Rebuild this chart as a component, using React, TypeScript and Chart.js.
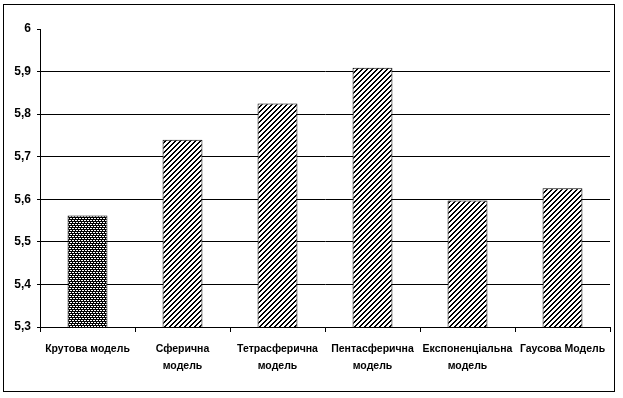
import React, { useEffect, useRef } from "react";
import { Chart, registerables } from "chart.js";

Chart.register(...registerables);

const categories: (string | string[])[] = [
  "Крутова модель",
  ["Сферична", "модель"],
  ["Тетрасферична", "модель"],
  ["Пентасферична", "модель"],
  ["Експоненціальна", "модель"],
  "Гаусова Модель",
];
const values = [5.562, 5.74, 5.825, 5.909, 5.597, 5.626];
const yTickLabels = ["5,3", "5,4", "5,5", "5,6", "5,7", "5,8", "5,9", "6"];

const FONT = "'Liberation Sans', Arial, sans-serif";

function makeDots(ctx: CanvasRenderingContext2D): CanvasPattern | string {
  const c = document.createElement("canvas");
  c.width = 6;
  c.height = 4;
  const t = c.getContext("2d")!;
  t.fillStyle = "#000";
  t.fillRect(0, 0, 6, 4);
  t.fillStyle = "#fff";
  [0, 1, 3, 4].forEach((x) => t.fillRect(x, 0, 1, 1));
  [1, 2, 4, 5].forEach((x) => t.fillRect(x, 2, 1, 1));
  return ctx.createPattern(c, "repeat") || "#333";
}

function makeHatch(ctx: CanvasRenderingContext2D): CanvasPattern | string {
  const n = 5;
  const c = document.createElement("canvas");
  c.width = n;
  c.height = n;
  const t = c.getContext("2d")!;
  t.fillStyle = "#fff";
  t.fillRect(0, 0, n, n);
  t.fillStyle = "#000";
  for (let y = 0; y < n; y++)
    for (let x = 0; x < n; x++) if ((x + y) % n < 2) t.fillRect(x, y, 1, 1);
  return ctx.createPattern(c, "repeat") || "#888";
}

export default function App() {
  const ref = useRef<HTMLCanvasElement | null>(null);
  useEffect(() => {
    const canvas = ref.current!;
    const ctx = canvas.getContext("2d")!;
    const dots = makeDots(ctx);
    const hatch = makeHatch(ctx);
    const chart = new Chart(canvas, {
      type: "bar",
      data: {
        labels: categories,
        datasets: [
          {
            data: values,
            backgroundColor: values.map((_, i) => (i === 0 ? dots : hatch)) as any,
            borderColor: "#000",
            borderWidth: 1,
            barPercentage: 0.42,
            categoryPercentage: 1,
          },
        ],
      },
      options: {
        animation: false,
        responsive: false,
        devicePixelRatio: 1,
        layout: { padding: { left: 0, top: 29, right: 13, bottom: 0 } },
        plugins: { legend: { display: false }, tooltip: { enabled: false } },
        scales: {
          x: {
            afterFit: (s: any) => {
              s.height = 71;
            },
            grid: {
              display: true,
              drawOnChartArea: false,
              drawTicks: true,
              tickLength: 5,
              tickColor: "#000",
              offset: true,
            },
            border: { display: true, color: "#000", width: 1 },
            ticks: {
              color: "#000",
              font: { family: FONT, size: 10.5, weight: "bold", lineHeight: 1.65 },
              padding: 8,
              maxRotation: 0,
              autoSkip: false,
            },
          },
          y: {
            min: 5.3,
            max: 6,
            afterFit: (s: any) => {
              s.width = 40;
            },
            grid: {
              color: (c: any) => (c.tick && c.tick.value > 5.99 ? "rgba(0,0,0,0)" : "#000"),
              tickColor: "#000",
              tickLength: 3,
              lineWidth: 1,
            },
            border: { display: true, color: "#000", width: 1 },
            ticks: {
              stepSize: 0.1,
              color: "#000",
              font: { family: FONT, size: 12, weight: "bold" },
              padding: 6,
              callback: (_v: any, i: number) => yTickLabels[i],
            },
          },
        },
      },
    });
    return () => chart.destroy();
  }, []);
  return (
    <div>
      <div
        style={{
          position: "fixed",
          left: 3,
          top: 4,
          width: 612,
          height: 388,
          border: "1px solid #000",
          boxSizing: "border-box",
        }}
      />
      <canvas
        ref={ref}
        width={623}
        height={398}
        style={{ position: "fixed", left: 0, top: 0, width: 623, height: 398 }}
      />
    </div>
  );
}
